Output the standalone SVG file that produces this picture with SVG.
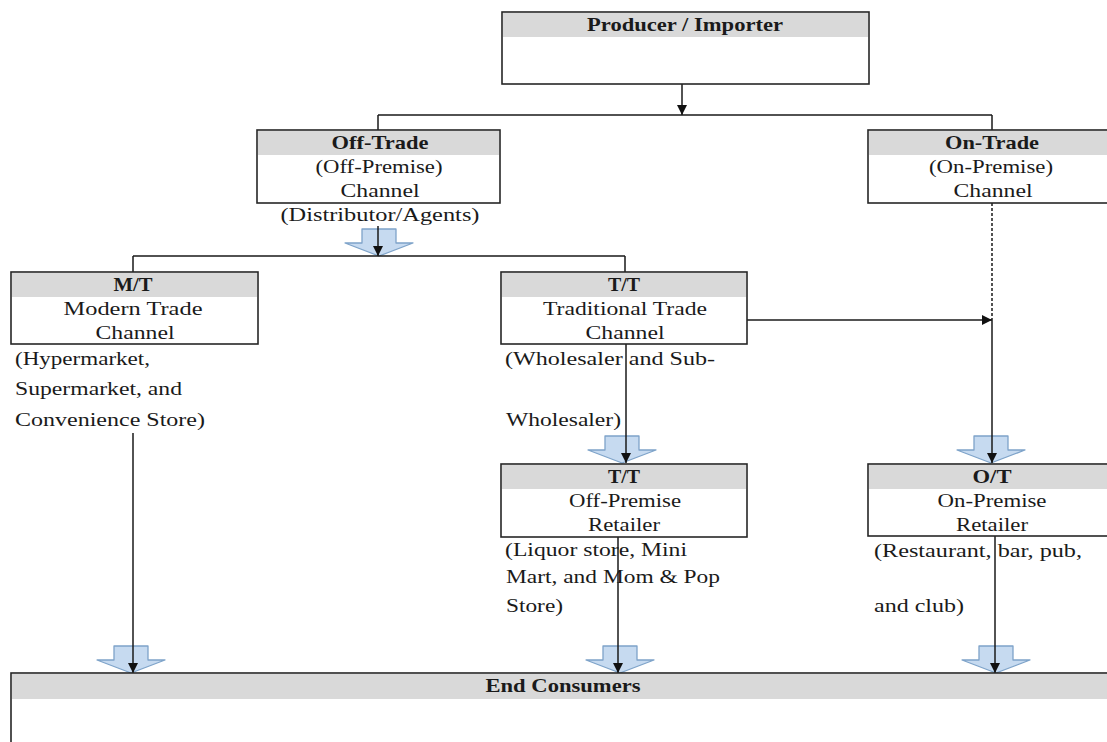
<svg xmlns="http://www.w3.org/2000/svg" width="1107" height="742" viewBox="0 0 1107 742">
  <style>
    .box { fill: #ffffff; stroke: #262626; stroke-width: 1.6; }
    .hdr { fill: #d9d9d9; }
    .t { font-family: "Liberation Serif", "Times New Roman", serif; font-size: 19px; fill: #1a1a1a; }
    .c { text-anchor: middle; }
    .b { font-weight: bold; }
    .ln { fill: none; stroke: #1a1a1a; stroke-width: 1.5; }
    .dash { stroke-dasharray: 3 2; }
    .blk { fill: #c6daf0; stroke: #7ea3c9; stroke-width: 1.3; stroke-linejoin: round; }
  </style>
  <defs>
    <marker id="tip" markerUnits="userSpaceOnUse" markerWidth="10" markerHeight="10" refX="10" refY="5" orient="auto" viewBox="0 0 10 10">
      <path d="M0,0 L10,5 L0,10 z" fill="#111"/>
    </marker>
    <!-- wide block arrow, origin at its tip -->
    <path id="blockArrow" class="blk" d="M-17,-27 L17,-27 L17,-13 L34,-13 L0,0 L-34,-13 L-17,-13 z"/>
  </defs>

  <rect width="1107" height="742" fill="#ffffff"/>

  <!-- block arrows sit under the thin connectors -->
  <g id="block-arrows">
    <use href="#blockArrow" x="379" y="256"/>
    <use href="#blockArrow" x="622" y="463"/>
    <use href="#blockArrow" x="991" y="463"/>
    <use href="#blockArrow" x="131" y="673"/>
    <use href="#blockArrow" x="620" y="673"/>
    <use href="#blockArrow" x="996" y="673"/>
  </g>

  <g id="connectors">
    <path class="ln" d="M682,84 V115" marker-end="url(#tip)"/>
    <path class="ln" d="M378,115 H992 M378,115 V130 M992,115 V130"/>
    <path class="ln" d="M378,226 V256" marker-end="url(#tip)"/>
    <path class="ln" d="M133,256 H625 M133,256 V272 M625,256 V272"/>
    <path class="ln dash" d="M992,203 V320"/>
    <path class="ln" d="M747,320 H992" marker-end="url(#tip)"/>
    <path class="ln" d="M992,320 V463" marker-end="url(#tip)"/>
    <path class="ln" d="M626,344 V463" marker-end="url(#tip)"/>
    <path class="ln" d="M133,433 V673" marker-end="url(#tip)"/>
    <path class="ln" d="M618,537 V673" marker-end="url(#tip)"/>
    <path class="ln" d="M995,536 V673" marker-end="url(#tip)"/>
  </g>

  <g id="producer">
    <rect class="box" x="502" y="12" width="367" height="72"/>
    <rect class="hdr" x="503" y="13" width="365" height="24"/>
    <text class="t c b" x="685" y="31" textLength="196" lengthAdjust="spacingAndGlyphs">Producer / Importer</text>
  </g>

  <g id="off-trade">
    <rect class="box" x="257" y="130" width="243" height="73"/>
    <rect class="hdr" x="258" y="131" width="241" height="24"/>
    <text class="t c b" x="380" y="149" textLength="97" lengthAdjust="spacingAndGlyphs">Off-Trade</text>
    <text class="t c" x="379" y="173" textLength="127" lengthAdjust="spacingAndGlyphs">(Off-Premise)</text>
    <text class="t c" x="380" y="197" textLength="79" lengthAdjust="spacingAndGlyphs">Channel</text>
    <text class="t c" x="380" y="221" textLength="199" lengthAdjust="spacingAndGlyphs">(Distributor/Agents)</text>
  </g>

  <g id="on-trade">
    <rect class="box" x="868" y="130" width="250" height="73"/>
    <rect class="hdr" x="869" y="131" width="248" height="24"/>
    <text class="t c b" x="992" y="149" textLength="94" lengthAdjust="spacingAndGlyphs">On-Trade</text>
    <text class="t c" x="991" y="173" textLength="124" lengthAdjust="spacingAndGlyphs">(On-Premise)</text>
    <text class="t c" x="993" y="197" textLength="79" lengthAdjust="spacingAndGlyphs">Channel</text>
  </g>

  <g id="modern-trade">
    <rect class="box" x="11" y="272" width="247" height="72"/>
    <rect class="hdr" x="12" y="273" width="245" height="24"/>
    <text class="t c b" x="133" y="291" textLength="39" lengthAdjust="spacingAndGlyphs">M/T</text>
    <text class="t c" x="133" y="315" textLength="139" lengthAdjust="spacingAndGlyphs">Modern Trade</text>
    <text class="t c" x="135" y="339" textLength="79" lengthAdjust="spacingAndGlyphs">Channel</text>
    <text class="t" x="15" y="365" textLength="135" lengthAdjust="spacingAndGlyphs">(Hypermarket,</text>
    <text class="t" x="15" y="395" textLength="167" lengthAdjust="spacingAndGlyphs">Supermarket, and</text>
    <text class="t" x="15" y="426" textLength="190" lengthAdjust="spacingAndGlyphs">Convenience Store)</text>
  </g>

  <g id="traditional-trade">
    <rect class="box" x="501" y="272" width="246" height="72"/>
    <rect class="hdr" x="502" y="273" width="244" height="24"/>
    <text class="t c b" x="624" y="291" textLength="32" lengthAdjust="spacingAndGlyphs">T/T</text>
    <text class="t c" x="625" y="315" textLength="164" lengthAdjust="spacingAndGlyphs">Traditional Trade</text>
    <text class="t c" x="625" y="339" textLength="79" lengthAdjust="spacingAndGlyphs">Channel</text>
    <text class="t" x="505" y="365" textLength="210" lengthAdjust="spacingAndGlyphs">(Wholesaler and Sub-</text>
    <text class="t" x="506" y="426" textLength="115" lengthAdjust="spacingAndGlyphs">Wholesaler)</text>
  </g>

  <g id="off-premise-retailer">
    <rect class="box" x="501" y="464" width="246" height="73"/>
    <rect class="hdr" x="502" y="465" width="244" height="24"/>
    <text class="t c b" x="624" y="483" textLength="32" lengthAdjust="spacingAndGlyphs">T/T</text>
    <text class="t c" x="625" y="507" textLength="112" lengthAdjust="spacingAndGlyphs">Off-Premise</text>
    <text class="t c" x="624" y="531" textLength="72" lengthAdjust="spacingAndGlyphs">Retailer</text>
    <text class="t" x="505" y="556" textLength="182" lengthAdjust="spacingAndGlyphs">(Liquor store, Mini</text>
    <text class="t" x="506" y="583" textLength="214" lengthAdjust="spacingAndGlyphs">Mart, and Mom &amp; Pop</text>
    <text class="t" x="506" y="612" textLength="57" lengthAdjust="spacingAndGlyphs">Store)</text>
  </g>

  <g id="on-premise-retailer">
    <rect class="box" x="868" y="464" width="250" height="72"/>
    <rect class="hdr" x="869" y="465" width="248" height="24"/>
    <text class="t c b" x="992" y="483" textLength="39" lengthAdjust="spacingAndGlyphs">O/T</text>
    <text class="t c" x="992" y="507" textLength="109" lengthAdjust="spacingAndGlyphs">On-Premise</text>
    <text class="t c" x="992" y="531" textLength="72" lengthAdjust="spacingAndGlyphs">Retailer</text>
    <text class="t" x="874" y="557" textLength="208" lengthAdjust="spacingAndGlyphs">(Restaurant, bar, pub,</text>
    <text class="t" x="874" y="612" textLength="90" lengthAdjust="spacingAndGlyphs">and club)</text>
  </g>

  <g id="end-consumers">
    <rect class="box" x="11" y="673" width="1110" height="90"/>
    <rect class="hdr" x="12" y="674" width="1108" height="25"/>
    <text class="t c b" x="563" y="692" textLength="155" lengthAdjust="spacingAndGlyphs">End Consumers</text>
  </g>
</svg>
